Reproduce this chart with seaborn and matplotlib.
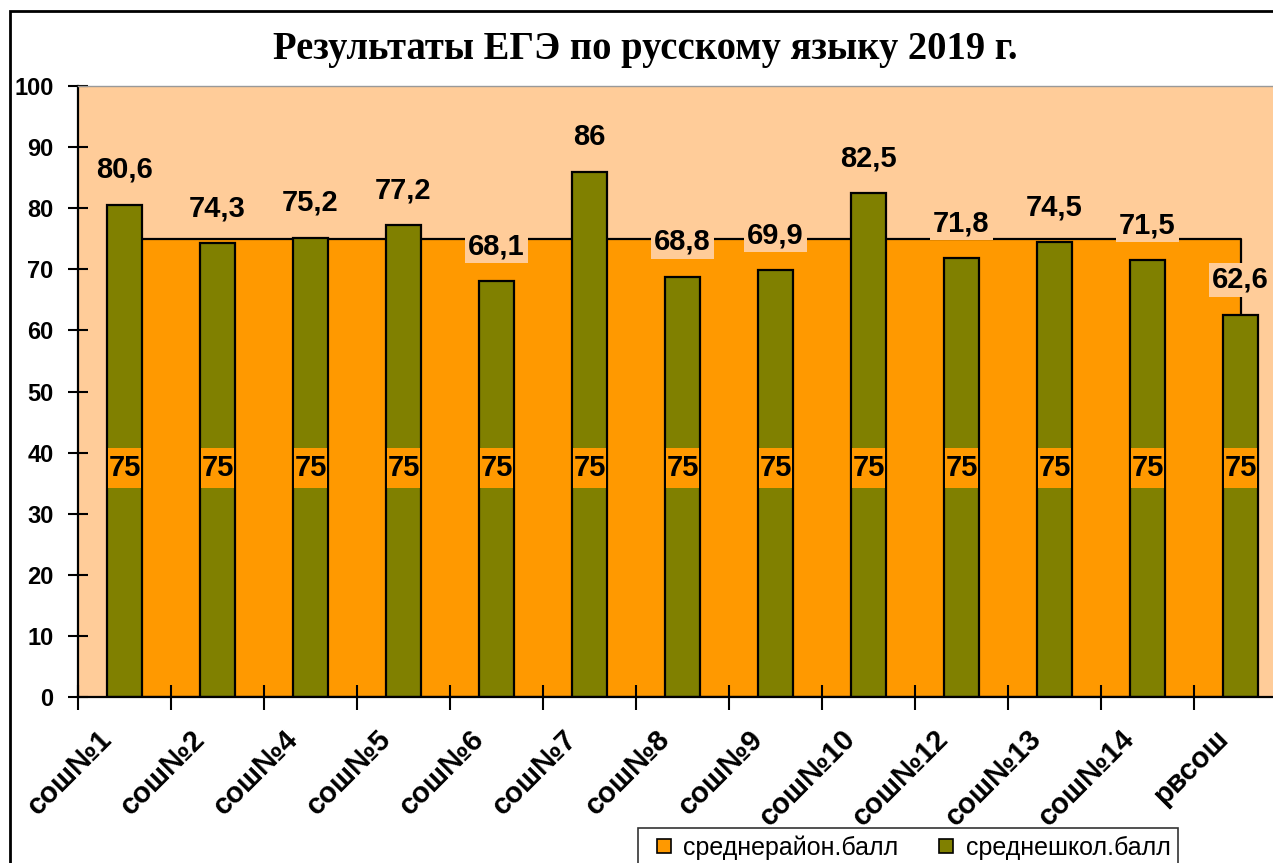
import matplotlib
matplotlib.use("Agg")
import matplotlib.pyplot as plt
import matplotlib.transforms as mtransforms
from matplotlib.patches import Rectangle
from matplotlib.lines import Line2D
import seaborn as sns
import numpy as np
import pandas as pd

categories = ["сош№1", "сош№2", "сош№4", "сош№5", "сош№6", "сош№7", "сош№8",
              "сош№9", "сош№10", "сош№12", "сош№13", "сош№14", "рвсош"]
school_avg = [80.6, 74.3, 75.2, 77.2, 68.1, 86, 68.8, 69.9, 82.5, 71.8, 74.5, 71.5, 62.6]
district_avg = [75] * 13
series_names = ["среднерайон.балл", "среднешкол.балл"]
title = "Результаты ЕГЭ по русскому языку 2019 г."

PEACH = "#FFCC99"
ORANGE = "#FF9900"
OLIVE = "#808000"

plt.rcParams["font.family"] = ["Liberation Sans", "DejaVu Sans"]

W, H = 1273, 863
fig = plt.figure(figsize=(W / 100, H / 100), dpi=100)
fig.patch.set_facecolor("white")

left_px, right_px, top_px, bottom_px = 78, 1287, 86, 697
ax = fig.add_axes([left_px / W, 1 - bottom_px / H, (right_px - left_px) / W, (bottom_px - top_px) / H])
ax.set_facecolor(PEACH)

df = pd.DataFrame({"school": categories, "score": school_avg, "district": district_avg})
x = np.arange(len(categories))

# area series
ax.fill_between(x, 0, df["district"], facecolor=ORANGE, edgecolor="black", linewidth=1.6, zorder=1)

# bar series
sns.barplot(data=df, x="school", y="score", color=OLIVE, saturation=1, width=0.38,
            edgecolor="black", linewidth=1.6, ax=ax, zorder=2)

ax.set_xlim(-0.5, len(categories) - 0.5)
ax.set_ylim(0, 100)
ax.set_xlabel("")
ax.set_ylabel("")

def fmt(v):
    return f"{v:g}".replace(".", ",")

for i, v in enumerate(school_avg):
    ax.annotate(fmt(v), xy=(i, v), xytext=(0, 25), textcoords="offset points",
                ha="center", va="center", fontsize=21, fontweight="bold", zorder=5,
                bbox=dict(boxstyle="square,pad=0.1", facecolor=PEACH, edgecolor="none"))
for i, v in enumerate(district_avg):
    ax.add_patch(Rectangle((i - 0.175, v / 2 - 3.3), 0.35, 6.6, facecolor=ORANGE,
                           edgecolor="none", zorder=4))
    ax.text(i, v / 2, fmt(v), ha="center", va="center", fontsize=21, fontweight="bold", zorder=5)

# y axis
ax.set_yticks(np.arange(0, 101, 10))
ax.tick_params(axis="y", direction="inout", length=15, width=1.5, labelsize=17, pad=10)
for lbl in ax.get_yticklabels():
    lbl.set_fontweight("bold")

# x axis: labels at centers, ticks at boundaries
ax.set_xticks(x)
ax.set_xticklabels(categories, rotation=45, ha="right", va="center",
                   rotation_mode="anchor", fontsize=21, fontweight="bold")
ax.tick_params(axis="x", which="major", length=0, pad=27)
ax.set_xticks(np.arange(-0.5, len(categories), 1), minor=True)
ax.tick_params(axis="x", which="minor", direction="inout", length=18, width=1.5)
offset = mtransforms.ScaledTranslation(-17 / 100, 0, fig.dpi_scale_trans)
for lbl in ax.get_xticklabels():
    lbl.set_transform(lbl.get_transform() + offset)

for s in ["left", "bottom"]:
    ax.spines[s].set_color("black")
    ax.spines[s].set_linewidth(1.6)
ax.spines["top"].set_color("#999999")
ax.spines["top"].set_linewidth(1.0)
ax.spines["right"].set_visible(False)

# title
fig.text(645 / W, 1 - 50 / H, title, ha="center", va="center", fontsize=27.8,
         fontweight="bold", family=["Liberation Serif", "DejaVu Serif"])

# figure border
fig.patches.append(Rectangle((10 / W, -0.2), 2, 1.2 - 11 / H, transform=fig.transFigure,
                             fill=False, edgecolor="black", linewidth=2, zorder=0))

# legend
handles = [Line2D([], [], linestyle="none", marker="s", markersize=10, markerfacecolor=ORANGE,
                  markeredgecolor="black", markeredgewidth=1.2),
           Line2D([], [], linestyle="none", marker="s", markersize=10, markerfacecolor=OLIVE,
                  markeredgecolor="black", markeredgewidth=1.2)]
leg = fig.legend(handles, series_names, loc="upper left", bbox_to_anchor=(638 / W, 1 - 828 / H),
                 ncol=2, fontsize=18, frameon=True, fancybox=False, edgecolor="black",
                 handlelength=1.45, handletextpad=0.05, columnspacing=1.2,
                 borderpad=0.3, borderaxespad=0)
leg.get_frame().set_linewidth(1.2)

fig.savefig("out.png", dpi=100)
